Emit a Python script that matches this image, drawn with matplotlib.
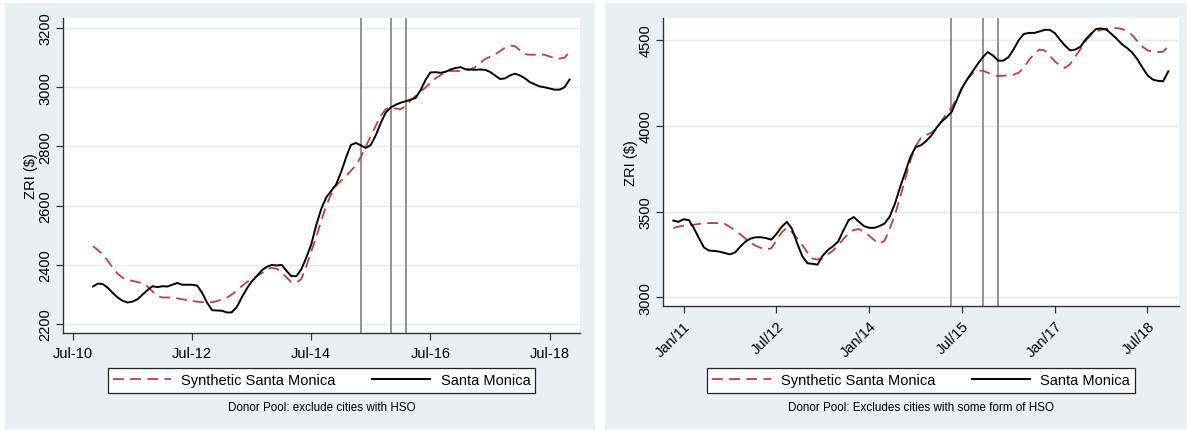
import matplotlib
matplotlib.use("Agg")
import matplotlib.pyplot as plt
import matplotlib.dates as mdates
from matplotlib.patches import Rectangle
from matplotlib.lines import Line2D
import pandas as pd

plt.rcParams['font.family'] = ['Liberation Sans', 'DejaVu Sans']

# Monthly ZRI, Nov 2010 - Nov 2018
months = pd.date_range('2010-11-01', '2018-11-01', freq='MS')

# Panel A: donor pool excludes cities with HSO
sm_a = [2327, 2337, 2335, 2322, 2306, 2290, 2279, 2273, 2276, 2284, 2300, 2315,
        2328, 2325, 2328, 2327, 2333, 2339, 2333, 2333, 2333, 2330, 2305, 2272,
        2247, 2246, 2245, 2239, 2240, 2258, 2290, 2320, 2344, 2362, 2382, 2393,
        2400, 2398, 2400, 2379, 2362, 2362, 2385, 2425, 2469, 2535, 2590, 2628,
        2650, 2672, 2715, 2765, 2805, 2812, 2804, 2795, 2805, 2838, 2880, 2915,
        2932, 2941, 2948, 2953, 2958, 2964, 2990, 3025, 3050, 3051, 3049, 3052,
        3060, 3065, 3068, 3061, 3060, 3059, 3060, 3059, 3052, 3040, 3028, 3030,
        3040, 3046, 3040, 3030, 3018, 3010, 3003, 3000, 2996, 2992, 2992, 3000,
        3026]
synth_a = [2463, 2450, 2435, 2413, 2391, 2370, 2357, 2350, 2346, 2342, 2338, 2327,
           2310, 2295, 2290, 2290, 2290, 2287, 2284, 2281, 2278, 2276, 2274, 2273,
           2274, 2278, 2284, 2290, 2300, 2314, 2328, 2342, 2352, 2362, 2372, 2385,
           2390, 2387, 2375, 2357, 2342, 2340, 2352, 2395, 2445, 2495, 2550, 2600,
           2640, 2668, 2685, 2700, 2718, 2736, 2765, 2800, 2835, 2870, 2905, 2926,
           2932, 2928, 2926, 2937, 2955, 2971, 2986, 2999, 3015, 3030, 3041, 3050,
           3055, 3055, 3055, 3057, 3060, 3068, 3082, 3095, 3103, 3111, 3122, 3134,
           3141, 3139, 3125, 3112, 3110, 3110, 3111, 3110, 3104, 3100, 3097, 3100,
           3119]

# Panel B: donor pool excludes cities with some form of HSO
sm_b = [3447, 3440, 3455, 3450, 3405, 3345, 3290, 3272, 3270, 3266, 3258, 3250,
        3262, 3295, 3325, 3343, 3350, 3350, 3345, 3336, 3368, 3410, 3440, 3400,
        3315, 3240, 3198, 3195, 3190, 3243, 3275, 3298, 3325, 3390, 3450, 3468,
        3440, 3415, 3405, 3405, 3415, 3430, 3470, 3545, 3640, 3730, 3820, 3876,
        3886, 3910, 3942, 3988, 4022, 4050, 4080, 4150, 4220, 4270, 4315, 4358,
        4400, 4430, 4410, 4380, 4380, 4400, 4445, 4500, 4536, 4542, 4542, 4550,
        4560, 4560, 4540, 4500, 4468, 4440, 4445, 4462, 4505, 4536, 4565, 4568,
        4561, 4535, 4507, 4475, 4455, 4428, 4390, 4340, 4295, 4270, 4262, 4260,
        4318]
synth_b = [3404, 3412, 3418, 3420, 3423, 3428, 3432, 3433, 3433, 3432, 3428, 3410,
           3390, 3367, 3342, 3318, 3300, 3288, 3280, 3285, 3330, 3378, 3405, 3380,
           3345, 3305, 3260, 3225, 3220, 3230, 3250, 3273, 3302, 3340, 3372, 3392,
           3398, 3382, 3358, 3332, 3312, 3330, 3400, 3480, 3580, 3690, 3800, 3880,
           3930, 3945, 3960, 3980, 4025, 4070, 4105, 4160, 4215, 4270, 4305, 4320,
           4322, 4310, 4295, 4290, 4292, 4295, 4298, 4310, 4340, 4385, 4420, 4445,
           4440, 4410, 4375, 4350, 4338, 4360, 4405, 4448, 4495, 4530, 4550, 4560,
           4566, 4570, 4570, 4565, 4555, 4530, 4495, 4462, 4440, 4433, 4430, 4432,
           4464]

# Policy dates marked with vertical lines
policy_dates = pd.to_datetime(['2015-05-01', '2015-11-01', '2016-02-01'])

ticks_a = pd.to_datetime(['2010-07-01', '2012-07-01', '2014-07-01', '2016-07-01', '2018-07-01'])
ticks_b = pd.to_datetime(['2011-01-01', '2012-07-01', '2014-01-01', '2015-07-01', '2017-01-01', '2018-07-01'])
yticks_a = [2200, 2400, 2600, 2800, 3000, 3200]
yticks_b = [3000, 3500, 4000, 4500]

caption_a = 'Donor Pool: exclude cities with HSO'
caption_b = 'Donor Pool: Excludes cities with some form of HSO'

W, H = 1187, 431
BG = '#e9f0f2'
GRID = '#e4ecef'
RED = '#c13b4f'
AXC = '#333333'

fig = plt.figure(figsize=(W / 100, H / 100), dpi=100)
fig.patch.set_facecolor('white')

def px_rect(x0, y0, x1, y1):
    return [x0 / W, 1 - y1 / H, (x1 - x0) / W, (y1 - y0) / H]

# Light panel backgrounds behind each graph
for (x0, x1) in [(5, 595), (605, 1187)]:
    r = px_rect(x0, 4, x1, 430)
    fig.patches.append(Rectangle((r[0], r[1]), r[2], r[3], transform=fig.transFigure,
                                 facecolor=BG, edgecolor='none', zorder=-10))

ax_a = fig.add_axes(px_rect(63, 19, 580, 334))
ax_b = fig.add_axes(px_rect(663, 19, 1179, 307))

def style(ax, yticks, ylim, xlim, xticks, fmt, rot):
    ax.set_zorder(2)
    ax.set_facecolor('white')
    ax.set_ylim(*ylim)
    ax.set_xlim(*xlim)
    ax.set_yticks(yticks)
    ax.set_xticks(xticks)
    ax.xaxis.set_major_formatter(mdates.DateFormatter(fmt))
    for s in ['top', 'right']:
        ax.spines[s].set_visible(False)
    for s in ['left', 'bottom']:
        ax.spines[s].set_color(AXC)
        ax.spines[s].set_linewidth(1.0)
    ax.tick_params(axis='both', direction='out', length=5, width=0.9, color=AXC,
                   labelsize=10.5, pad=4)
    ax.tick_params(axis='y', labelrotation=90, pad=2.5)
    for lab in ax.get_yticklabels():
        lab.set_va('center')
    if rot:
        for lab in ax.get_xticklabels():
            lab.set_rotation(45)
            lab.set_ha('right')
            lab.set_va('top')
            lab.set_rotation_mode('anchor')
    ax.grid(axis='y', color=GRID, linewidth=1.0)
    ax.set_axisbelow(True)
    ax.set_ylabel('ZRI ($)', fontsize=10.5, va='center')
    w_px = ax.get_position().width * W
    ax.yaxis.set_label_coords(-32 / w_px, 0.5)

style(ax_a, yticks_a, (2170, 3234),
      (pd.Timestamp('2010-05-01'), pd.Timestamp('2019-01-04')), ticks_a, '%b-%y', False)
style(ax_b, yticks_b, (2949, 4629),
      (pd.Timestamp('2010-09-01'), pd.Timestamp('2019-01-03')), ticks_b, '%b/%y', True)

for ax, sm, syn in [(ax_a, sm_a, synth_a), (ax_b, sm_b, synth_b)]:
    for d in policy_dates:
        ax.axvline(d, color='#8a8a8a', linewidth=1.3, zorder=2)
    ax.plot(months, syn, color=RED, linewidth=1.3, dashes=(6, 3.5), zorder=3)
    ax.plot(months, sm, color='black', linewidth=1.4, zorder=4)

handles = [Line2D([], [], color=RED, linewidth=1.3, dashes=(6, 3.5)),
           Line2D([], [], color='black', linewidth=1.4)]
labels = ['Synthetic Santa Monica', 'Santa Monica']

for cx, caption in [(321.5, caption_a), (921, caption_b)]:
    leg = fig.legend(handles, labels, loc='center', ncol=2,
                     bbox_to_anchor=(cx / W, 1 - 381.5 / H),
                     fontsize=10.5, frameon=True, fancybox=False, framealpha=1,
                     handlelength=4.0, handletextpad=0.7, columnspacing=2.5,
                     borderpad=0.35, borderaxespad=0)
    leg.get_frame().set_edgecolor('#222222')
    leg.get_frame().set_linewidth(0.9)
    leg.get_frame().set_facecolor('white')
    fig.text(cx / W, 1 - 408 / H, caption, ha='center', va='center', fontsize=8.4)

fig.savefig('out.png', dpi=100)
